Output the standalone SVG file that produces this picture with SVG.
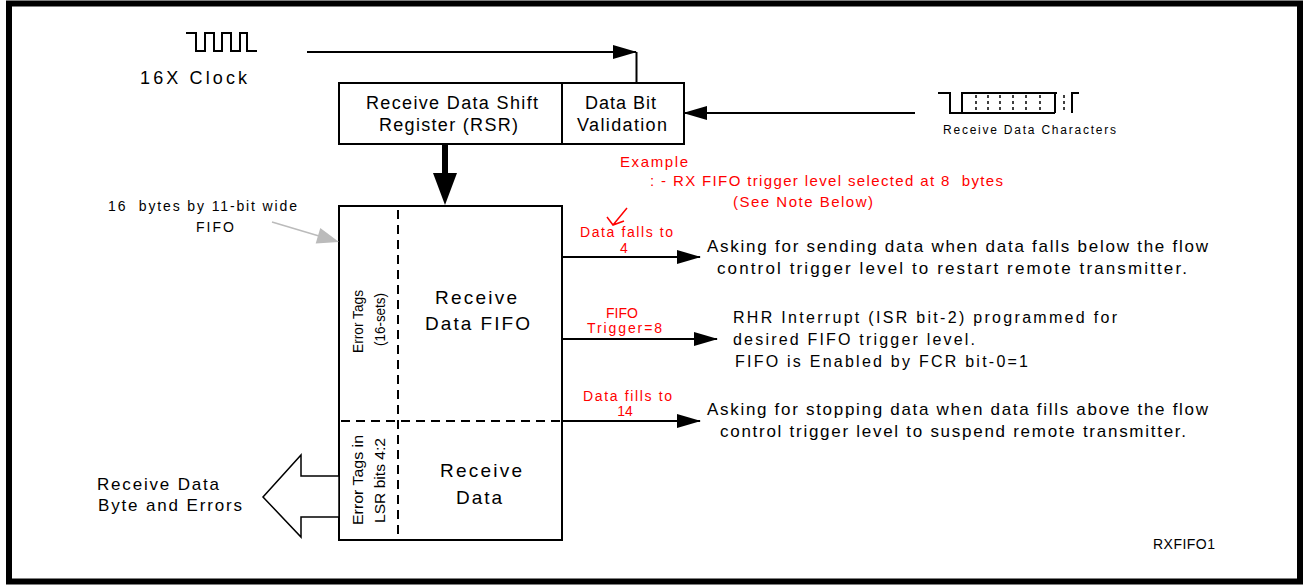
<svg xmlns="http://www.w3.org/2000/svg" width="1305" height="586" viewBox="0 0 1305 586">
<style>
text{font-family:"Liberation Sans",Arial,sans-serif;fill:#000;white-space:pre}
.red{fill:#ff0000}
.box{fill:#fff;stroke:#000;stroke-width:2}
.ln{fill:none;stroke:#000;stroke-width:2}
.dash{fill:none;stroke:#000;stroke-width:2;stroke-dasharray:9,6}
</style>
<defs>
<marker id="ah" markerWidth="24" markerHeight="14" refX="23" refY="7" orient="auto" markerUnits="userSpaceOnUse">
<path d="M0,0 L24,7 L0,14 Z" fill="#000"/>
</marker>
</defs>
<rect x="0" y="0" width="1305" height="586" fill="#fff"/>
<rect x="9" y="3.5" width="1291" height="578" fill="none" stroke="#000" stroke-width="6"/>

<g id="clock">
<path class="ln" stroke-width="1.8" d="M186,33 H196 V51 H205 V33 H214 V51 H222 V33 H231 V51 H240 V33 H247 V51 H257"/>
<text x="140" y="84" font-size="18" textLength="107" lengthAdjust="spacing">16X Clock</text>
</g>

<g id="rx-chars">
<path class="ln" stroke-width="1.8" d="M938,93 H950 V113 H1055 M962,113 V93 H1057 M1055,93 V113 M1072,113 V93 H1079"/>
<path fill="none" stroke="#000" stroke-width="1.5" stroke-dasharray="3,3" d="M976,95 V113 M988,95 V113 M1000,95 V113 M1013,95 V113 M1026,95 V113 M1040,95 V113 M1064,95 V113"/>
<text x="943" y="134" font-size="12" textLength="173" lengthAdjust="spacing">Receive Data Characters</text>
</g>

<g id="rsr">
<rect class="box" x="339" y="83" width="223" height="61"/>
<text x="366" y="109" font-size="18" textLength="172" lengthAdjust="spacing">Receive Data Shift</text>
<text x="379" y="131" font-size="18" textLength="139" lengthAdjust="spacing">Register (RSR)</text>
</g>

<g id="validation">
<rect class="box" x="562" y="83" width="122" height="61"/>
<text x="585" y="109" font-size="18" textLength="71" lengthAdjust="spacing">Data Bit</text>
<text x="577" y="131" font-size="18" textLength="90" lengthAdjust="spacing">Validation</text>
</g>

<g id="fifo">
<rect class="box" x="339" y="206" width="223" height="334"/>
<line class="dash" x1="398" y1="210" x2="398" y2="536"/>
<line class="dash" x1="341" y1="421" x2="560" y2="421"/>
<text x="435" y="304" font-size="19" textLength="82" lengthAdjust="spacing">Receive</text>
<text x="425" y="330" font-size="19" textLength="105" lengthAdjust="spacing">Data FIFO</text>
<text x="440" y="477" font-size="19" textLength="82" lengthAdjust="spacing">Receive</text>
<text x="456" y="504" font-size="19" textLength="46" lengthAdjust="spacing">Data</text>
<text transform="translate(332,353) rotate(-90)" x="0" y="31" font-size="15.5" textLength="63" lengthAdjust="spacingAndGlyphs">Error Tags</text>
<text transform="translate(354,346) rotate(-90)" x="0" y="31" font-size="15.5" textLength="53" lengthAdjust="spacingAndGlyphs">(16-sets)</text>
<text transform="translate(332,525) rotate(-90)" x="0" y="31" font-size="15.5" textLength="90" lengthAdjust="spacingAndGlyphs">Error Tags in</text>
<text transform="translate(354,523) rotate(-90)" x="0" y="31" font-size="15.5" textLength="85" lengthAdjust="spacingAndGlyphs">LSR bits 4:2</text>
</g>

<g id="fifo-label">
<text x="108" y="211" font-size="14" textLength="189" lengthAdjust="spacing">16  bytes by 11-bit wide</text>
<text x="196" y="232" font-size="14" textLength="38" lengthAdjust="spacing">FIFO</text>
<line x1="272" y1="222" x2="319" y2="236" stroke="#bbb" stroke-width="1.5"/>
<polygon points="339,242 315.7,243.4 320.3,228" fill="#bbb"/>
</g>

<g id="output">
<polygon points="339,476 301,476 301,455 263,497 301,537 301,517 339,517" fill="#fff" stroke="#000" stroke-width="1.5"/>
<text x="97" y="490" font-size="17" textLength="122" lengthAdjust="spacing">Receive Data</text>
<text x="98" y="511" font-size="17" textLength="144" lengthAdjust="spacing">Byte and Errors</text>
</g>

<g id="example">
<text class="red" x="620" y="167" font-size="15" textLength="68" lengthAdjust="spacing">Example</text>
<text class="red" x="650" y="186" font-size="15" textLength="353" lengthAdjust="spacing">: - RX FIFO trigger level selected at 8  bytes</text>
<text class="red" x="733" y="207" font-size="15" textLength="140" lengthAdjust="spacing">(See Note Below)</text>
<path d="M627,208 L613,225 M607,217 L613,225 L624,221" fill="none" stroke="#ff0000" stroke-width="1.5"/>
</g>

<g id="connectors">
<line x1="307" y1="52" x2="636" y2="52" class="ln" marker-end="url(#ah)"/>
<line x1="636.5" y1="52" x2="636.5" y2="83" class="ln"/>
<line x1="915" y1="113" x2="684" y2="113" class="ln" marker-end="url(#ah)"/>
<line x1="445" y1="144" x2="445" y2="176" stroke="#000" stroke-width="6"/>
<polygon points="433,173 457,173 445,205" fill="#000"/>
<line x1="562" y1="257" x2="700" y2="257" class="ln" marker-end="url(#ah)"/>
<line x1="562" y1="339" x2="717" y2="339" class="ln" marker-end="url(#ah)"/>
<line x1="562" y1="421" x2="700" y2="421" class="ln" marker-end="url(#ah)"/>
</g>

<g id="labels">
<text class="red" x="580" y="237" font-size="14" textLength="93" lengthAdjust="spacing">Data falls to</text>
<text class="red" x="624" y="253" font-size="14" text-anchor="middle">4</text>
<text class="red" x="622" y="318" font-size="14" text-anchor="middle">FIFO</text>
<text class="red" x="587" y="333" font-size="14" textLength="75" lengthAdjust="spacing">Trigger=8</text>
<text class="red" x="583" y="401" font-size="14" textLength="89" lengthAdjust="spacing">Data fills to</text>
<text class="red" x="625" y="416" font-size="14" text-anchor="middle">14</text>
</g>

<g id="desc-fall">
<text x="707" y="252" font-size="17" textLength="501" lengthAdjust="spacing">Asking for sending data when data falls below the flow</text>
<text x="717" y="274" font-size="17" textLength="470" lengthAdjust="spacing">control trigger level to restart remote transmitter.</text>
</g>
<g id="desc-trigger">
<text x="733" y="323" font-size="16" textLength="384" lengthAdjust="spacing">RHR Interrupt (ISR bit-2) programmed for</text>
<text x="733" y="345" font-size="16" textLength="242" lengthAdjust="spacing">desired FIFO trigger level.</text>
<text x="735" y="367" font-size="16" textLength="293" lengthAdjust="spacing">FIFO is Enabled by FCR bit-0=1</text>
</g>
<g id="desc-fill">
<text x="707" y="415" font-size="17" textLength="501" lengthAdjust="spacing">Asking for stopping data when data fills above the flow</text>
<text x="720" y="437" font-size="17" textLength="466" lengthAdjust="spacing">control trigger level to suspend remote transmitter.</text>
</g>

<g id="figure-id">
<text x="1153" y="549" font-size="14" textLength="62" lengthAdjust="spacing">RXFIFO1</text>
</g>
</svg>
